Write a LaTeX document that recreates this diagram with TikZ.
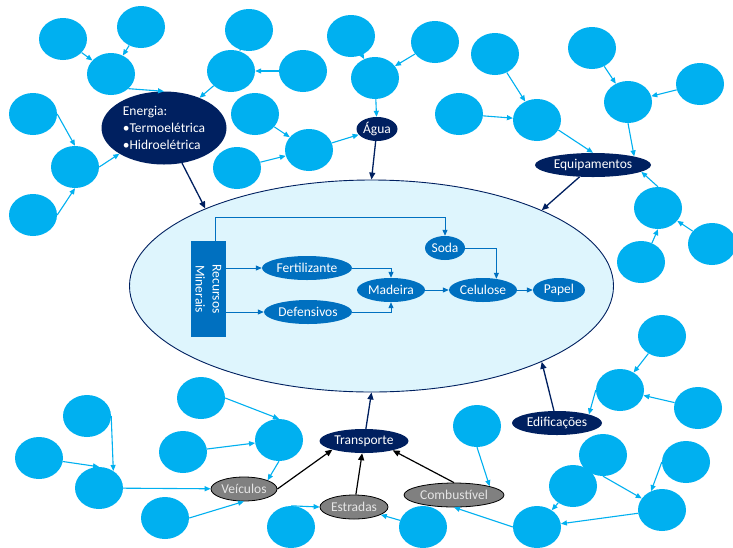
\documentclass[tikz,border=0pt]{standalone}
\usepackage{fontspec}
\setmainfont{Carlito}
\usetikzlibrary{shapes.geometric,arrows.meta}
\definecolor{celeste}{RGB}{0,176,240}
\definecolor{marinho}{RGB}{0,32,96}
\definecolor{azulin}{RGB}{0,112,192}
\definecolor{fundo}{RGB}{222,245,253}
\definecolor{cinza}{RGB}{128,128,128}

\begin{document}
\begin{tikzpicture}[x=1pt,y=-1pt,
    font=\fontsize{13.5}{17}\selectfont,
    bolha/.style={ellipse,fill=celeste,minimum width=48pt,minimum height=42pt,inner sep=0pt},
    tema/.style={ellipse,fill=marinho,text=white,minimum height=24pt,inner sep=0pt},
    etapa/.style={ellipse,fill=azulin,text=white,minimum height=24pt,inner sep=0pt},
    via/.style={ellipse,fill=cinza,draw=black,line width=0.8pt,text=white!90!black,minimum height=24pt,inner sep=0pt},
    liga/.style={draw=celeste,line width=1.1pt,-{Triangle[length=6pt,width=5pt]}},
    fluxo/.style={draw=azulin,line width=1pt,-{Triangle[length=6pt,width=5pt]}},
    impacto/.style={draw=marinho,line width=1.3pt,-{Triangle[length=7pt,width=6pt]}},
    apoio/.style={draw=black,line width=1.2pt,-{Triangle[length=7pt,width=6pt]}}]
    \path[use as bounding box,fill=white] (0,0) rectangle (733,547);

    \node[ellipse,draw=marinho,line width=0.9pt,fill=fundo,minimum width=484pt,minimum height=212pt] (big) at (371.5,286) {};

    % bolhas
    \node[bolha] (b1) at (63,39) {};
    \node[bolha] (b2) at (141,27) {};
    \node[bolha] (b3) at (111,74) {};
    \node[bolha] (b4) at (33,114) {};
    \node[bolha] (b5) at (75,167) {};
    \node[bolha] (b6) at (33,215) {};
    \node[bolha] (b7) at (249,30) {};
    \node[bolha] (b8) at (231,71) {};
    \node[bolha] (b9) at (303,71) {};
    \node[bolha] (b10) at (255,114) {};
    \node[bolha] (b11) at (309,150) {};
    \node[bolha] (b12) at (237,168) {};
    \node[bolha] (b13) at (351,36) {};
    \node[bolha] (b14) at (375,78) {};
    \node[bolha] (b15) at (435,42) {};
    \node[bolha] (b16) at (459,114) {};
    \node[bolha] (b17) at (495,54) {};
    \node[bolha] (b18) at (537,120) {};
    \node[bolha] (b19) at (592,48) {};
    \node[bolha] (b20) at (700,84) {};
    \node[bolha] (b21) at (628,102) {};
    \node[bolha] (b22) at (658,208) {};
    \node[bolha] (b23) at (712,244) {};
    \node[bolha] (b24) at (641,262) {};
    \node[bolha] (b25) at (87,416) {};
    \node[bolha] (b26) at (39,458) {};
    \node[bolha] (b27) at (99,488) {};
    \node[bolha] (b28) at (201,398) {};
    \node[bolha] (b29) at (183,452) {};
    \node[bolha] (b30) at (279,440) {};
    \node[bolha] (b31) at (165,518) {};
    \node[bolha] (b32) at (291,527) {};
    \node[bolha] (b33) at (477,426) {};
    \node[bolha] (b34) at (662,336) {};
    \node[bolha] (b35) at (620,390) {};
    \node[bolha] (b36) at (698,408) {};
    \node[bolha] (b37) at (603,455) {};
    \node[bolha] (b38) at (573,486) {};
    \node[bolha] (b39) at (686,462) {};
    \node[bolha] (b40) at (662,510) {};
    \node[bolha] (b41) at (537,527) {};
    \node[bolha] (b42) at (423,527) {};

    % temas
    \node[tema,minimum width=125pt,minimum height=73pt,align=left] (en) at (164,128) {Energia:\\\textbullet Termoelétrica\\\textbullet Hidroelétrica};
    \node[tema,minimum width=41pt] (ag) at (377,129) {Água};
    \node[tema,minimum width=116pt] (eq) at (593,165) {Equipamentos};
    \node[tema,minimum width=89pt] (tr) at (364,441) {Transporte};
    \node[tema,minimum width=90pt] (ed) at (557,423) {Edificações};
    \node[via,minimum width=66pt] (ve) at (244,489) {Veículos};
    \node[via,minimum width=68pt] (es) at (354,507) {Estradas};
    \node[via,minimum width=100pt] (co) at (454,495) {Combustível};

    % cadeia interna
    \node[fill=azulin,minimum width=35pt,minimum height=96pt,inner sep=0pt] (rm) at (208.5,289) {};
    \node[rotate=-90,text=white,align=center,inner sep=0pt] (rmtxt) at (rm) {Recursos\\Minerais};
    \node[etapa,minimum width=90pt] (fe) at (307,268) {Fertilizante};
    \node[etapa,minimum width=88pt] (de) at (308,312) {Defensivos};
    \node[etapa,minimum width=68pt] (ma) at (391,290) {Madeira};
    \node[etapa,minimum width=40pt] (so) at (445,248) {Soda};
    \node[etapa,minimum width=68pt] (ce) at (483,290) {Celulose};
    \node[etapa,minimum width=52pt] (pa) at (559,290) {Papel};

    \draw[fluxo] ([xshift=7pt]rm.north) -- ++(0,-23) -| (so.north);
    \draw[fluxo] (fe.west -| rm.east) -- (fe.west);
    \draw[fluxo] (de.west -| rm.east) -- (de.west);
    \draw[fluxo] (fe.east) -| (ma.north);
    \draw[fluxo] (de.east) -| (ma.south);
    \draw[fluxo] (ma) -- (ce);
    \draw[fluxo] (so.east) -| (ce.40);
    \draw[fluxo] (ce) -- (pa);

    % ligacoes das bolhas
    \draw[liga] (b1) -- (b3);
    \draw[liga] (b2) -- (b3);
    \draw[liga] (b3.-40) -- (en.north);
    \draw[liga] (b4.east) -- (b5.north);
    \draw[liga] (b6.east) -- (b5.south);
    \draw[liga] (b5.east) -- (en.210);
    \draw[liga] (b7) -- (b8);
    \draw[liga] (b9) -- (b8);
    \draw[liga] (b8) -- (en);
    \draw[liga] (b10) -- (b11);
    \draw[liga] (b12) -- (b11);
    \draw[liga] (b11) -- (ag);
    \draw[liga] (b13) -- (b14);
    \draw[liga] (b15) -- (b14);
    \draw[liga] (b14) -- (ag);
    \draw[liga] (b17) -- (b18);
    \draw[liga] (b16) -- (b18);
    \draw[liga] (b18.-25) -- (eq.north);
    \draw[liga] (b19) -- (b21);
    \draw[liga] (b20) -- (b21);
    \draw[liga] (b21.south) -- (eq.north east);
    \draw[liga] (b22.north) -- (eq.-8);
    \draw[liga] (b23) -- (b22);
    \draw[liga] (b24.60) -- (b22.south);
    \draw[liga] (b25.east) -- (b27.50);
    \draw[liga] (b26) -- (b27.north);
    \draw[liga] (b27) -- (ve);
    \draw[liga] (b28.east) -- (b30.north);
    \draw[liga] (b29) -- (b30);
    \draw[liga] (b30.south) -- (ve.north east);
    \draw[liga] (b31.east) -- (ve.south);
    \draw[liga] (b32.north) -- (es.west);
    \draw[liga] (b33.south) -- (co.north east);
    \draw[liga] (b34) -- (b35);
    \draw[liga] (b36) -- (b35);
    \draw[liga] (b35.west) -- (ed.north east);
    \draw[liga] (b37.south) -- (b40);
    \draw[liga] (b39.west) -- (b40.120);
    \draw[liga] (b38) -- (b41);
    \draw[liga] (b40) -- (b41);
    \draw[liga] (b41.west) -- (co.south);
    \draw[liga] (b42) -- (es);

    % impactos no sistema
    \draw[impacto] (en) -- (big.155);
    \draw[impacto] (ag) -- (big.north);
    \draw[impacto] (eq) -- (big.24);
    \draw[impacto] (tr) -- (big.south);
    \draw[impacto] (ed) -- (big.-24);
    \draw[apoio] (ve.east) -- (tr.south west);
    \draw[apoio] (es) -- (tr);
    \draw[apoio] (co.north) -- (tr.-18);
\end{tikzpicture}
\end{document}
